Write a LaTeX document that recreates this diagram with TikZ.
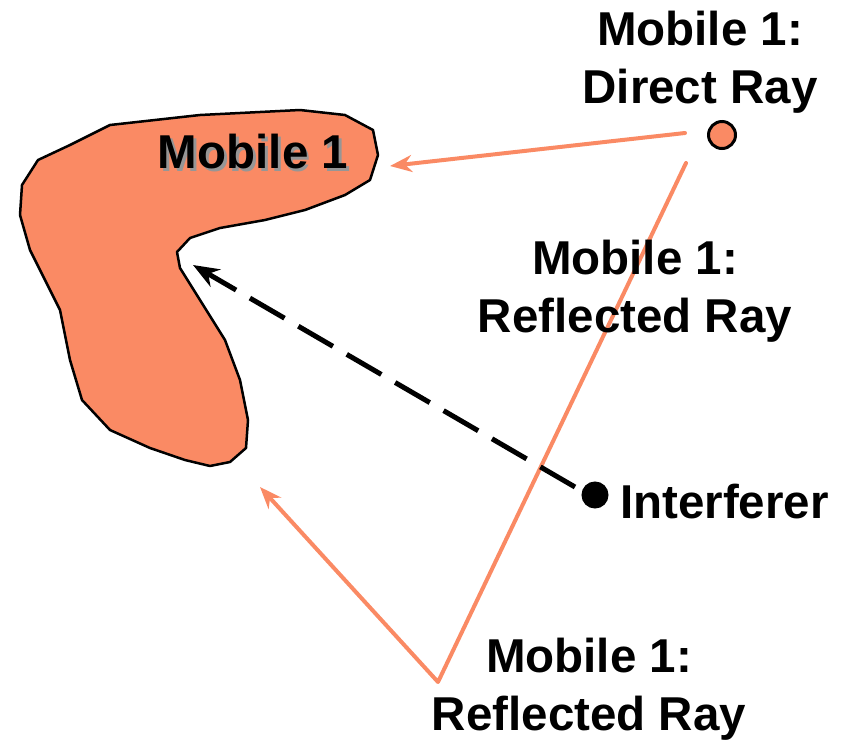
\documentclass[tikz,border=0pt]{standalone}
\usepackage{fontspec}
\setmainfont{Liberation Sans}
\usetikzlibrary{arrows.meta}
\definecolor{salmon}{RGB}{250,138,100}
\definecolor{shadowgray}{RGB}{150,150,150}
\newcommand{\shadowtext}[1]{\makebox[0pt][l]{\hspace{2.5pt}\raisebox{-2.5pt}{\textcolor{shadowgray}{#1}}}#1}
\tikzset{
  lbl/.style={font=\fontsize{47.5}{58}\selectfont\bfseries, align=center, inner sep=0pt},
  ray/.style={draw=salmon, line width=4pt, line cap=round, line join=round},
  raytip/.style={-{Stealth[length=22pt, width=17pt]}},
  dot/.style={circle, draw=black, line width=3pt, minimum size=27pt, inner sep=0pt},
}
\begin{document}
\begin{tikzpicture}[x=1pt, y=-1pt]
\useasboundingbox (0,0) rectangle (848,740);

% mobile coverage area
\draw[fill=salmon, line width=2.5pt, line join=round]
  (110,125) -- (200,115) -- (300,110) -- (345,115) -- (373,130) -- (378,155)
  -- (370,180) -- (345,195) -- (305,210) -- (265,220) -- (220,228) -- (190,238)
  -- (177,252) -- (180,268) -- (200,300) -- (225,340) -- (240,380) -- (248,420)
  -- (246,448) -- (230,462) -- (210,466) -- (185,460) -- (150,448) -- (110,430)
  -- (82,400) -- (70,360) -- (60,310) -- (45,280) -- (30,250) -- (20,215)
  -- (22,185) -- (38,160) -- (70,145) -- cycle;
\node[lbl] (mob) at (253,153) {\shadowtext{Mobile 1}};

% sources
\node[dot, fill=salmon] (src) at (722,135) {};
\node[dot, fill=black, minimum size=24pt] (intf) at (595,495) {};

% ray end points
\coordinate (directEnd) at (685,133);
\coordinate (directTip) at (390,166);
\coordinate (reflStart) at (686,163);
\coordinate (bounce) at (438,682);
\coordinate (reflTip) at (260,487);
\coordinate (intStart) at (575,487);
\coordinate (intTip) at (193,265);

% direct and reflected rays
\draw[ray, raytip] (directEnd) -- (directTip);
\draw[ray, raytip] (reflStart) -- (bounce) -- (reflTip);

% interference path
\draw[line width=5pt, dash pattern=on 40pt off 16pt,
      -{Stealth[length=26pt, width=20pt]}] (intStart) -- (intTip);

% labels
\node[lbl] (lblDirect) at (700,62) {Mobile 1:\\Direct Ray};
\node[lbl] (lblRefl1) at (635,291) {Mobile 1:\\Reflected Ray};
\node[lbl, anchor=west] (lblInt) at (620,502) {Interferer};
\node[lbl] (lblRefl2) at (589,689) {Mobile 1:\\Reflected Ray};
\end{tikzpicture}
\end{document}
